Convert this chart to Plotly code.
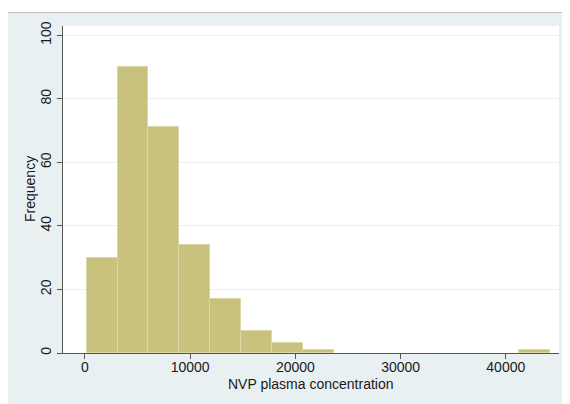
import plotly.graph_objects as go

# Histogram bins (NVP plasma concentration) and frequencies
bin_start = 162.0
bin_width = 2936.0
counts = [30, 90, 71, 34, 17, 7, 3, 1, 0, 0, 0, 0, 0, 0, 1]
x_ticks = [0, 10000, 20000, 30000, 40000]
y_ticks = [0, 20, 40, 60, 80, 100]

edges = [bin_start + i * bin_width for i in range(len(counts) + 1)]
centers = [(edges[i] + edges[i + 1]) / 2 for i in range(len(counts))]
xs = [c for c, n in zip(centers, counts) if n > 0]
ys = [n for n in counts if n > 0]

# page body has an 8px margin; figure sized to fit the window
OFF = 8
W, H = 570 - OFF, 404 - OFF
L, T = 63 - OFF, 26 - OFF
R = W - (559 - OFF)
B = H - (353 - OFF)
pw, ph = W - L - R, H - T - B

def px_x(p):  # absolute page x -> paper
    return (p - OFF - L) / pw

def px_y(p):  # absolute page y -> paper
    return (H - B - (p - OFF)) / ph

fig = go.Figure()
fig.add_trace(go.Bar(
    x=xs, y=ys, width=bin_width,
    marker=dict(color="#c9c17e", line=dict(color="#dbd6a3", width=1)),
    hoverinfo="skip",
))

font = "Liberation Sans, Arial, Helvetica, sans-serif"
fig.update_layout(
    width=W, height=H,
    margin=dict(l=L, r=R, t=T, b=B, pad=0, autoexpand=False),
    paper_bgcolor="#e9f0f2",
    plot_bgcolor="white",
    showlegend=False,
    bargap=0,
    font=dict(family=font, size=14, color="#1a1a1a"),
    xaxis=dict(
        range=[-2090, 45057], tickvals=x_ticks, ticktext=[str(v) for v in x_ticks],
        showgrid=False, zeroline=False, showline=True, linecolor="#555555", linewidth=1,
        ticks="outside", ticklen=5, tickcolor="#555555", automargin=False,
        ticklabelstandoff=-4,
        tickfont=dict(size=14),
    ),
    yaxis=dict(
        range=[0, 102.9], tickvals=y_ticks, tickangle=-90,
        showgrid=True, gridcolor="#e9f0f2", gridwidth=1, zeroline=False,
        showline=True, linecolor="#555555", linewidth=1,
        ticks="outside", ticklen=5, tickcolor="#555555", automargin=False,
        tickfont=dict(size=14),
    ),
    annotations=[
        dict(text="NVP plasma concentration", xref="paper", yref="paper",
             x=px_x(310.5), y=px_y(384), xanchor="center", yanchor="middle",
             showarrow=False, font=dict(size=14)),
        dict(text="Frequency", xref="paper", yref="paper", textangle=-90,
             x=px_x(30), y=px_y(189), xanchor="center", yanchor="middle",
             showarrow=False, font=dict(size=14)),
    ],
    shapes=[
        dict(type="rect", xref="paper", yref="paper", layer="above",
             x0=px_x(0), x1=px_x(580), y0=px_y(12), y1=px_y(0),
             fillcolor="white", line=dict(width=0)),
        dict(type="line", xref="paper", yref="paper", layer="above",
             x0=px_x(0), x1=px_x(580), y0=px_y(12.5), y1=px_y(12.5),
             line=dict(color="#c4c4c4", width=1.2)),
    ],
)

fig.write_html("out.html")
